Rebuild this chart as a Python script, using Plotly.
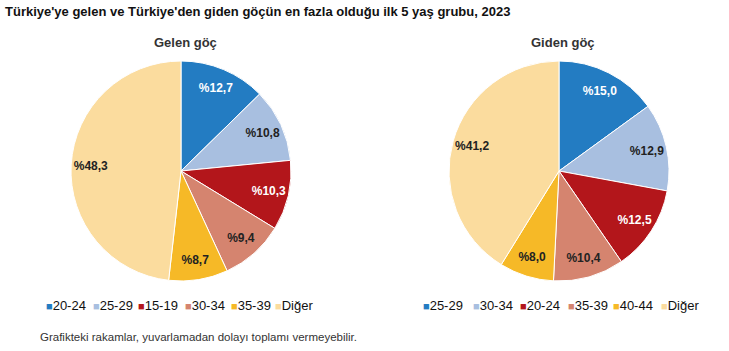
import plotly.graph_objects as go

title_text = "Türkiye'ye gelen ve Türkiye'den giden göçün en fazla olduğu ilk 5 yaş grubu, 2023"
gelen_labels = ["20-24", "25-29", "15-19", "30-34", "35-39", "Diğer"]
gelen_values = [12.7, 10.8, 10.3, 9.4, 8.7, 48.3]
giden_labels = ["25-29", "30-34", "20-24", "35-39", "40-44", "Diğer"]
giden_values = [15.0, 12.9, 12.5, 10.4, 8.0, 41.2]

colors = ["#237CC2", "#A8BFE0", "#B3161B", "#D5846F", "#F6B927", "#FBDC9E"]
text_colors = ["white", "#222222", "white", "#222222", "#222222", "#222222"]

# legend item positions (px) for each pie
legend1_x = [44, 91, 136, 183, 229, 273]
legend2_x = [421, 471, 518, 566, 611, 659]

W, H = 729, 351


def fmt(v):
    return "%" + f"{v:.1f}".replace(".", ",")


fig = go.Figure()
domains = [dict(x=[71 / W, 291 / W], y=[(H - 281) / H, (H - 61) / H]),
           dict(x=[449 / W, 669 / W], y=[(H - 281) / H, (H - 61) / H])]
for labels, values, dom in [(gelen_labels, gelen_values, domains[0]), (giden_labels, giden_values, domains[1])]:
    # coloured slices
    fig.add_trace(go.Pie(
        labels=labels, values=values, sort=False, direction="clockwise", rotation=0,
        textinfo="none", marker=dict(colors=colors, line=dict(color="white", width=1)),
        domain=dom, showlegend=False, hoverinfo="label+percent",
    ))
    # transparent ring carrying the value labels near the outer edge
    fig.add_trace(go.Pie(
        labels=labels, values=values, sort=False, direction="clockwise", rotation=0, hole=0.64,
        text=[fmt(v) for v in values], textinfo="text", textposition="inside",
        insidetextorientation="horizontal",
        insidetextfont=dict(color=text_colors, size=12, family="Liberation Sans", weight="bold"),
        marker=dict(colors=["rgba(0,0,0,0)"] * len(values), line=dict(width=0)),
        domain=dom, showlegend=False, hoverinfo="skip",
    ))

annotations = [
    dict(text="<b>" + title_text + "</b>", x=3 / W, y=(H - 12) / H, xanchor="left",
         font=dict(size=13, color="#111")),
    dict(text="<b>Gelen göç</b>", x=185 / W, y=(H - 42) / H, xanchor="center",
         font=dict(size=13, color="#333")),
    dict(text="<b>Giden göç</b>", x=563 / W, y=(H - 42) / H, xanchor="center",
         font=dict(size=13, color="#333")),
    dict(text="Grafikteki rakamlar, yuvarlamadan dolayı toplamı vermeyebilir.", x=38 / W, y=(H - 337) / H,
         xanchor="left", font=dict(size=11.5, color="#333")),
]
for labels, xs in [(gelen_labels, legend1_x), (giden_labels, legend2_x)]:
    for lab, col, xp in zip(labels, colors, xs):
        annotations.append(dict(
            text=f"<span style='color:{col};font-size:11px'>■</span>{lab}",
            x=xp / W, y=(H - 305) / H, xanchor="left",
            font=dict(size=13, color="#111")))
for a in annotations:
    a.update(xref="paper", yref="paper", yanchor="middle", showarrow=False)

fig.update_layout(
    width=W, height=H, margin=dict(l=0, r=0, t=0, b=0),
    paper_bgcolor="white", plot_bgcolor="white",
    font=dict(family="Liberation Sans"),
    uniformtext=dict(minsize=12, mode="show"),
    showlegend=False,
    annotations=annotations,
)
fig.write_html("out.html")
